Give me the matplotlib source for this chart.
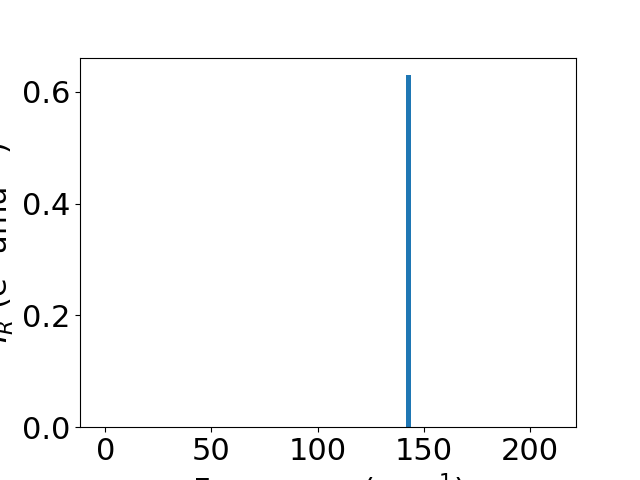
import matplotlib
matplotlib.use("Agg")
import matplotlib.pyplot as plt

frequencies = [142.8]
intensities = [0.63]

plt.rcParams['font.size'] = 22
fig, ax = plt.subplots(figsize=(6.4, 4.8), dpi=100)
ax.bar(frequencies, intensities, width=2.3, color='#1f77b4')
ax.set_xlim(-11.9, 221.7)
ax.set_xticks([0, 50, 100, 150, 200])
ax.set_yticks([0.0, 0.2, 0.4, 0.6])
ax.set_xlabel("Frequency (cm$^{-1}$)")
ax.set_ylabel("$I_R$ (e$^2$ amu$^{-1}$)")
fig.savefig("out.png")
